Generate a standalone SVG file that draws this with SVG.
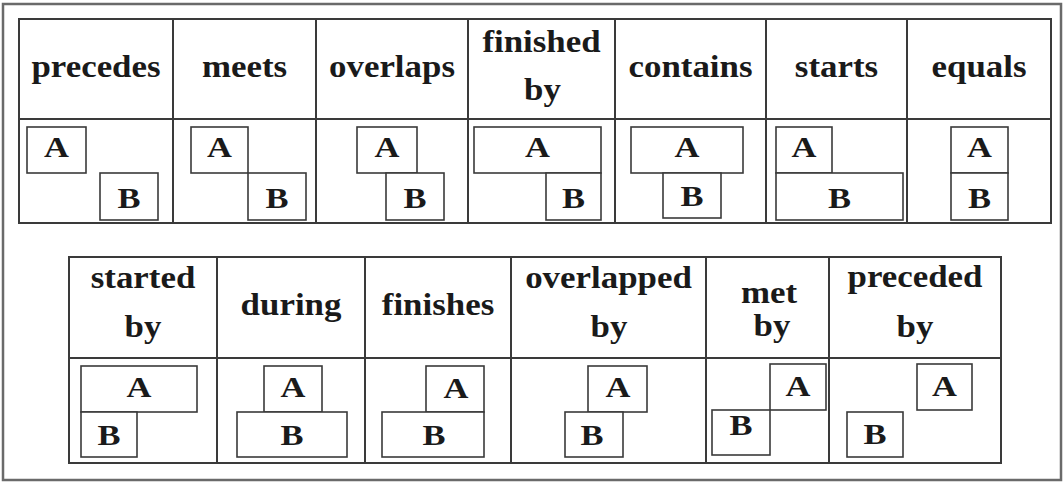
<svg xmlns="http://www.w3.org/2000/svg" width="1064" height="482" viewBox="0 0 1064 482">
  <style>
    .frame { fill: #ffffff; stroke: #6a6a6a; stroke-width: 2.5; }
    .grid { fill: none; stroke: #3a3a3a; stroke-width: 2; }
    .box { fill: #ffffff; stroke: #3a3a3a; stroke-width: 1.6; }
    .head { font-family: "Liberation Serif", "Times New Roman", serif; font-weight: bold; font-size: 32px; fill: #1a1a1a; text-anchor: middle; }
    .lbl { font-family: "Liberation Serif", "Times New Roman", serif; font-weight: bold; font-size: 30px; fill: #1a1a1a; text-anchor: middle; }
  </style>

  <!-- outer frame -->
  <rect class="frame" x="3" y="4" width="1058" height="476"/>

  <!-- table grid lines -->
  <g id="connectors">
    <!-- upper table -->
    <rect class="grid" x="19" y="19" width="1032" height="204"/>
    <line class="grid" x1="19" y1="119" x2="1051" y2="119"/>
    <line class="grid" x1="173" y1="19" x2="173" y2="223"/>
    <line class="grid" x1="316" y1="19" x2="316" y2="223"/>
    <line class="grid" x1="468" y1="19" x2="468" y2="223"/>
    <line class="grid" x1="615" y1="19" x2="615" y2="223"/>
    <line class="grid" x1="766" y1="19" x2="766" y2="223"/>
    <line class="grid" x1="907" y1="19" x2="907" y2="223"/>
    <!-- lower table -->
    <rect class="grid" x="69" y="257" width="932" height="206"/>
    <line class="grid" x1="69" y1="358" x2="1001" y2="358"/>
    <line class="grid" x1="217" y1="257" x2="217" y2="463"/>
    <line class="grid" x1="365" y1="257" x2="365" y2="463"/>
    <line class="grid" x1="511" y1="257" x2="511" y2="463"/>
    <line class="grid" x1="706" y1="257" x2="706" y2="463"/>
    <line class="grid" x1="829" y1="257" x2="829" y2="463"/>
  </g>

  <!-- upper row relations -->
  <g id="precedes">
    <text class="head" transform="translate(96 77) scale(1.09 1)">precedes</text>
    <rect class="box" x="27" y="127" width="59" height="46"/>
    <rect class="box" x="100" y="173" width="58" height="47"/>
    <text class="lbl" transform="translate(56.5 157) scale(1.15 1)">A</text>
    <text class="lbl" transform="translate(129 208) scale(1.15 1)">B</text>
  </g>

  <g id="meets">
    <text class="head" transform="translate(244.5 77) scale(1.09 1)">meets</text>
    <rect class="box" x="191" y="127" width="57" height="46"/>
    <rect class="box" x="248" y="173" width="58" height="47"/>
    <text class="lbl" transform="translate(219.5 157) scale(1.15 1)">A</text>
    <text class="lbl" transform="translate(277 208) scale(1.15 1)">B</text>
  </g>

  <g id="overlaps">
    <text class="head" transform="translate(392 77) scale(1.09 1)">overlaps</text>
    <rect class="box" x="357" y="127" width="60" height="46"/>
    <rect class="box" x="386" y="173" width="58" height="47"/>
    <text class="lbl" transform="translate(387 157) scale(1.15 1)">A</text>
    <text class="lbl" transform="translate(415 208) scale(1.15 1)">B</text>
  </g>

  <g id="finished-by">
    <text class="head" transform="translate(541.5 52) scale(1.09 1)">finished</text>
    <text class="head" transform="translate(542.5 100) scale(1.09 1)">by</text>
    <rect class="box" x="474" y="127" width="127" height="46"/>
    <rect class="box" x="546" y="173" width="55" height="47"/>
    <text class="lbl" transform="translate(537.5 157) scale(1.15 1)">A</text>
    <text class="lbl" transform="translate(573.5 208) scale(1.15 1)">B</text>
  </g>

  <g id="contains">
    <text class="head" transform="translate(690.5 77) scale(1.09 1)">contains</text>
    <rect class="box" x="631" y="127" width="112" height="46"/>
    <rect class="box" x="663" y="173" width="58" height="45"/>
    <text class="lbl" transform="translate(687 157) scale(1.15 1)">A</text>
    <text class="lbl" transform="translate(692 206) scale(1.15 1)">B</text>
  </g>

  <g id="starts">
    <text class="head" transform="translate(836.5 77) scale(1.09 1)">starts</text>
    <rect class="box" x="776" y="127" width="56" height="46"/>
    <rect class="box" x="776" y="173" width="127" height="47"/>
    <text class="lbl" transform="translate(804 157) scale(1.15 1)">A</text>
    <text class="lbl" transform="translate(839.5 208) scale(1.15 1)">B</text>
  </g>

  <g id="equals">
    <text class="head" transform="translate(979 77) scale(1.09 1)">equals</text>
    <rect class="box" x="951" y="127" width="57" height="46"/>
    <rect class="box" x="951" y="173" width="57" height="47"/>
    <text class="lbl" transform="translate(979.5 157) scale(1.15 1)">A</text>
    <text class="lbl" transform="translate(979.5 208) scale(1.15 1)">B</text>
  </g>

  <!-- lower row relations -->
  <g id="started-by">
    <text class="head" transform="translate(143 288) scale(1.09 1)">started</text>
    <text class="head" transform="translate(143 337) scale(1.09 1)">by</text>
    <rect class="box" x="81" y="366" width="116" height="46"/>
    <rect class="box" x="81" y="412" width="56" height="45"/>
    <text class="lbl" transform="translate(139 397) scale(1.15 1)">A</text>
    <text class="lbl" transform="translate(109 445) scale(1.15 1)">B</text>
  </g>

  <g id="during">
    <text class="head" transform="translate(291 315) scale(1.09 1)">during</text>
    <rect class="box" x="264" y="366" width="58" height="46"/>
    <rect class="box" x="237" y="412" width="110" height="45"/>
    <text class="lbl" transform="translate(293 397) scale(1.15 1)">A</text>
    <text class="lbl" transform="translate(292 445) scale(1.15 1)">B</text>
  </g>

  <g id="finishes">
    <text class="head" transform="translate(438 315) scale(1.09 1)">finishes</text>
    <rect class="box" x="426" y="366" width="58" height="46"/>
    <rect class="box" x="382" y="412" width="102" height="45"/>
    <text class="lbl" transform="translate(456 398) scale(1.15 1)">A</text>
    <text class="lbl" transform="translate(434 445) scale(1.15 1)">B</text>
  </g>

  <g id="overlapped-by">
    <text class="head" transform="translate(608.5 288) scale(1.09 1)">overlapped</text>
    <text class="head" transform="translate(609 337) scale(1.09 1)">by</text>
    <rect class="box" x="588" y="366" width="59" height="46"/>
    <rect class="box" x="565" y="412" width="58" height="45"/>
    <text class="lbl" transform="translate(618 397) scale(1.15 1)">A</text>
    <text class="lbl" transform="translate(592 445) scale(1.15 1)">B</text>
  </g>

  <g id="met-by">
    <text class="head" transform="translate(769 303) scale(1.09 1)">met</text>
    <text class="head" transform="translate(772 336) scale(1.09 1)">by</text>
    <rect class="box" x="770" y="364" width="56" height="46"/>
    <rect class="box" x="712" y="410" width="58" height="45"/>
    <text class="lbl" transform="translate(798 396) scale(1.15 1)">A</text>
    <text class="lbl" transform="translate(741 435) scale(1.15 1)">B</text>
  </g>

  <g id="preceded-by">
    <text class="head" transform="translate(915 287) scale(1.09 1)">preceded</text>
    <text class="head" transform="translate(915 337) scale(1.09 1)">by</text>
    <rect class="box" x="917" y="364" width="55" height="46"/>
    <rect class="box" x="847" y="412" width="56" height="45"/>
    <text class="lbl" transform="translate(944.5 396) scale(1.15 1)">A</text>
    <text class="lbl" transform="translate(875 444) scale(1.15 1)">B</text>
  </g>
</svg>
